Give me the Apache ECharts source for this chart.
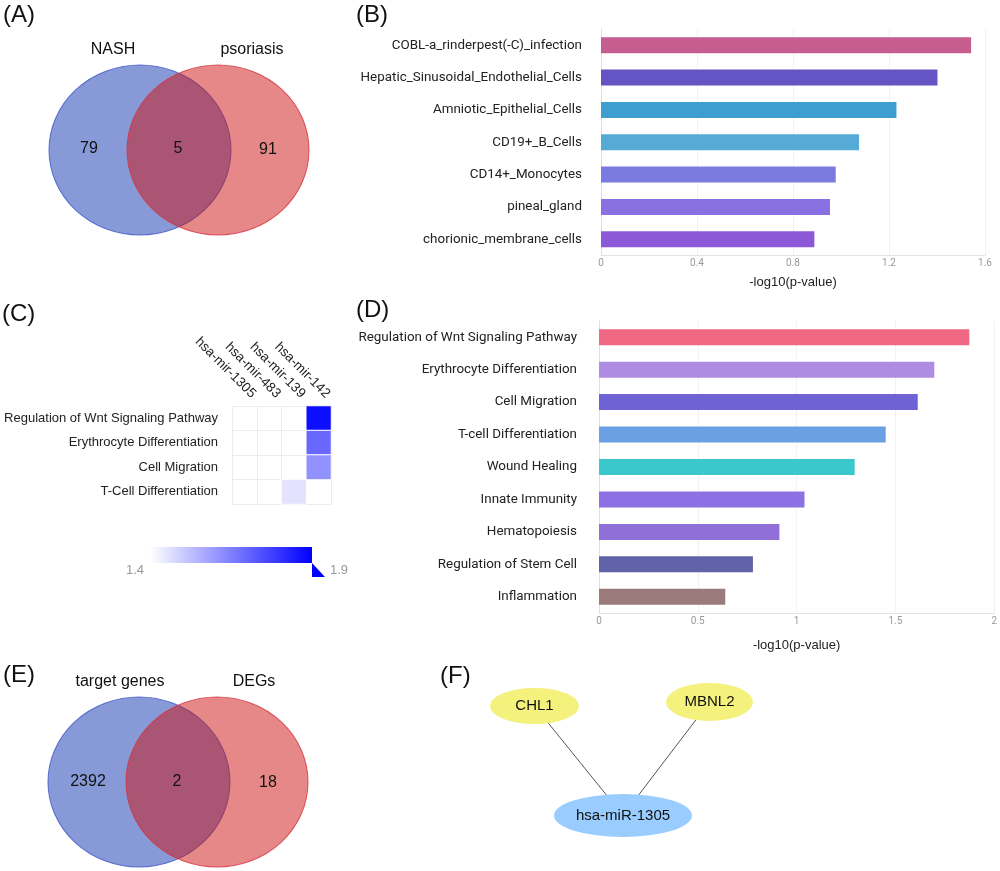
<!DOCTYPE html>
<html><head><meta charset="utf-8">
<script src="https://cdn.jsdelivr.net/npm/echarts@6/dist/echarts.min.js"></script>
<style>html,body{margin:0;padding:0;background:#fff}#c{width:1000px;height:871px}</style>
</head><body><div id="c"></div>
<script>
// ---------- DATA ----------
// (A) Venn
const vennASets = ['NASH', 'psoriasis'];
const vennACounts = [79, 5, 91];           // left only, both, right only
// (E) Venn
const vennESets = ['target genes', 'DEGs'];
const vennECounts = [2392, 2, 18];
// (B) enrichment bars
const bCategories = ['COBL-a_rinderpest(-C)_infection', 'Hepatic_Sinusoidal_Endothelial_Cells', 'Amniotic_Epithelial_Cells', 'CD19+_B_Cells', 'CD14+_Monocytes', 'pineal_gland', 'chorionic_membrane_cells'];
const bValues = [1.542, 1.402, 1.231, 1.075, 0.978, 0.954, 0.889];
const bTicks = [0, 1.6, 0.4];  // min, max, interval
// (D) enrichment bars
const dCategories = ['Regulation of Wnt Signaling Pathway', 'Erythrocyte Differentiation', 'Cell Migration', 'T-cell Differentiation', 'Wound Healing', 'Innate Immunity', 'Hematopoiesis', 'Regulation of Stem Cell', 'Inflammation'];
const dValues = [1.874, 1.697, 1.613, 1.451, 1.294, 1.040, 0.913, 0.779, 0.639];
const dTicks = [0, 2, 0.5];
// (C) heatmap
const cMirnas = ['hsa-mir-1305', 'hsa-mir-483', 'hsa-mir-139', 'hsa-mir-142'];
const cTerms = ['Regulation of Wnt Signaling Pathway', 'Erythrocyte Differentiation', 'Cell Migration', 'T-Cell Differentiation'];
const cCells = [[3, 0, 1.874], [3, 1, 1.697], [3, 2, 1.613], [2, 3, 1.455]]; // [miRNA idx, term idx, -log10 p]
const cRange = [1.4, 1.9];
// (F) network
const fNodes = ['CHL1', 'MBNL2', 'hsa-miR-1305'];
const fEdges = [['CHL1', 'hsa-miR-1305'], ['MBNL2', 'hsa-miR-1305']];

// ---------- STYLE / LAYOUT ----------
const bColors = ['#c55d8f', '#6554c4', '#3d9ecf', '#55aad6', '#7b7ae0', '#8a6fe0', '#8c58d7'];
const dColors = ['#f06884', '#af8ce4', '#6e62d4', '#6ca0e4', '#3ac8cc', '#8c70e4', '#9070d8', '#6262a8', '#9a7a7a'];
const heatColors = ['#ffffff', '#0000ff'];
const FONT = 'Liberation Sans, Arial, sans-serif';
const BARFONT = 'Roboto, Liberation Sans, sans-serif';
// venn layout (page px): circle centres, size, label positions
const vennLayouts = [
  {sets: vennASets, counts: vennACounts, c: [[140, 150], [218, 150]], names: [[113, 50], [252, 50]], nums: [[89, 149], [178, 149], [268, 150]]},
  {sets: vennESets, counts: vennECounts, c: [[139, 782], [217, 782]], names: [[120, 682], [254, 682]], nums: [[88, 782], [177, 782], [268, 783]]}
];
const vennSize = [182, 170];
const nodeLayout = {
  'CHL1': {p: [534.5, 706], s: [89, 36], col: '#f4f17d'},
  'MBNL2': {p: [709.5, 702], s: [87, 38], col: '#f4f17d'},
  'hsa-miR-1305': {p: [623, 815.5], s: [138, 43], col: '#99ccff'}
};
const legendBox = {x: 150, y: 547, w: 162, h: 16};

const chart = echarts.init(document.getElementById('c'), null, {renderer: 'canvas'});

const vennCircle = (k, color, border) => ({
  type: 'scatter', xAxisIndex: 0, yAxisIndex: 0, symbol: 'circle', symbolSize: vennSize,
  itemStyle: {color: color, borderColor: border, borderWidth: 1, opacity: 1},
  silent: true, z: 2 + k,
  data: vennLayouts.map(v => ({name: v.sets[k], value: v.c[k]}))
});
const vennText = () => {
  const d = [];
  vennLayouts.forEach(v => {
    v.sets.forEach((s, i) => d.push({value: v.names[i], label: {formatter: s}}));
    v.counts.forEach((n, i) => d.push({value: v.nums[i], label: {formatter: String(n)}}));
  });
  return {type: 'scatter', xAxisIndex: 0, yAxisIndex: 0, symbolSize: 0, silent: true, z: 5,
    itemStyle: {opacity: 1},
    label: {show: true, position: 'inside', color: '#111', fontSize: 16, fontFamily: FONT, textBorderWidth: 0}, data: d};
};

const barSeries = (xi, cats, vals, cols) => ({
  type: 'bar', xAxisIndex: xi, yAxisIndex: xi, barWidth: 16,
  data: vals.map((v, i) => ({value: v, itemStyle: {color: cols[i]}}))
});
const valueAxis = (gi, t, gap) => ({
  type: 'value', gridIndex: gi, min: t[0], max: t[1], interval: t[2],
  name: '-log10(p-value)', nameLocation: 'middle', nameGap: gap,
  nameTextStyle: {fontFamily: FONT, fontSize: 13, color: '#222'},
  axisLine: {show: true, lineStyle: {color: '#e3e3e3'}}, axisTick: {show: false},
  axisLabel: {fontSize: 10, color: '#999', margin: 3, fontFamily: BARFONT},
  splitLine: {show: true, lineStyle: {color: '#f2f2f2'}}
});
const catAxis = (gi, cats, margin) => ({
  type: 'category', gridIndex: gi, data: cats, inverse: true,
  axisLine: {show: true, lineStyle: {color: '#e0e0e0'}}, axisTick: {show: false},
  axisLabel: {fontSize: 13.4, color: '#222', margin: margin, fontFamily: BARFONT}
});

const option = {
  backgroundColor: '#fff',
  animation: false,
  grid: [
    {left: 0, top: 0, right: 0, bottom: 0},
    {left: 601, top: 29, width: 384, height: 226.5},
    {left: 599, top: 321, width: 396, height: 292},
    {left: 232, top: 406, width: 99, height: 98}
  ],
  xAxis: [
    {type: 'value', gridIndex: 0, min: 0, max: 1000, show: false},
    valueAxis(1, bTicks, 20),
    valueAxis(2, dTicks, 26),
    {type: 'category', gridIndex: 3, data: cMirnas, position: 'top',
     axisLine: {show: false}, axisTick: {show: false},
     axisLabel: {rotate: 45, fontSize: 13.5, color: '#222', fontFamily: FONT, margin: 1, interval: 0,
                 verticalAlign: 'bottom', lineHeight: 26},
     splitLine: {show: true, interval: 0, lineStyle: {color: '#ececec'}}}
  ],
  yAxis: [
    {type: 'value', gridIndex: 0, min: 0, max: 871, inverse: true, show: false},
    catAxis(1, bCategories, 19),
    catAxis(2, dCategories, 22),
    {type: 'category', gridIndex: 3, data: cTerms, inverse: true,
     axisLine: {show: false}, axisTick: {show: false},
     axisLabel: {fontSize: 13, color: '#222', fontFamily: FONT, margin: 14, interval: 0},
     splitLine: {show: true, interval: 0, lineStyle: {color: '#ececec'}}}
  ],
  visualMap: {
    type: 'continuous', seriesIndex: 6, min: cRange[0], max: cRange[1], show: false,
    inRange: {color: heatColors}
  },
  series: [
    vennCircle(0, 'rgba(17,51,177,0.5)', 'rgba(60,85,200,0.8)'),
    vennCircle(1, 'rgba(205,17,17,0.5)', 'rgba(215,50,60,0.8)'),
    vennText(),
    {
      type: 'graph', coordinateSystem: 'cartesian2d', xAxisIndex: 0, yAxisIndex: 0,
      layout: 'none', silent: true, z: 3,
      label: {show: true, position: 'inside', color: '#111', fontSize: 15, fontFamily: FONT},
      lineStyle: {color: '#555', width: 1, opacity: 1},
      data: fNodes.map(n => ({name: n, value: nodeLayout[n].p, symbolSize: nodeLayout[n].s, itemStyle: {color: nodeLayout[n].col}})),
      links: fEdges.map(e => ({source: e[0], target: e[1]}))
    },
    barSeries(1, bCategories, bValues, bColors),
    barSeries(2, dCategories, dValues, dColors),
    {
      type: 'heatmap', xAxisIndex: 3, yAxisIndex: 3, data: cCells,
      itemStyle: {borderColor: '#fff', borderWidth: 1}
    }
  ],
  graphic: [
    ...[
      ['(A)', 3, 16], ['(B)', 356, 16], ['(C)', 2, 315], ['(D)', 356, 311], ['(E)', 3, 676], ['(F)', 440, 677]
    ].map(t => ({type: 'text', left: t[1], top: t[2] - 13, style: {text: t[0], fontSize: 24, fontFamily: FONT, fill: '#111'}})),
    // colour-scale legend for (C)
    {type: 'rect', shape: {x: legendBox.x, y: legendBox.y, width: legendBox.w, height: legendBox.h},
     style: {fill: new echarts.graphic.LinearGradient(0, 0, 1, 0, [{offset: 0, color: heatColors[0]}, {offset: 1, color: heatColors[1]}])}},
    {type: 'polygon', shape: {points: [[legendBox.x + legendBox.w, legendBox.y + legendBox.h], [legendBox.x + legendBox.w, legendBox.y + legendBox.h + 14], [legendBox.x + legendBox.w + 13, legendBox.y + legendBox.h + 14]]},
     style: {fill: heatColors[1]}},
    {type: 'text', x: legendBox.x - 6, y: legendBox.y + legendBox.h + 7,
     style: {text: cRange[0].toFixed(1), fill: '#999', fontSize: 13, fontFamily: FONT, align: 'right', verticalAlign: 'middle'}},
    {type: 'text', x: legendBox.x + legendBox.w + 18, y: legendBox.y + legendBox.h + 7,
     style: {text: cRange[1].toFixed(1), fill: '#999', fontSize: 13, fontFamily: FONT, align: 'left', verticalAlign: 'middle'}}
  ]
};
chart.setOption(option);
</script></body></html>
